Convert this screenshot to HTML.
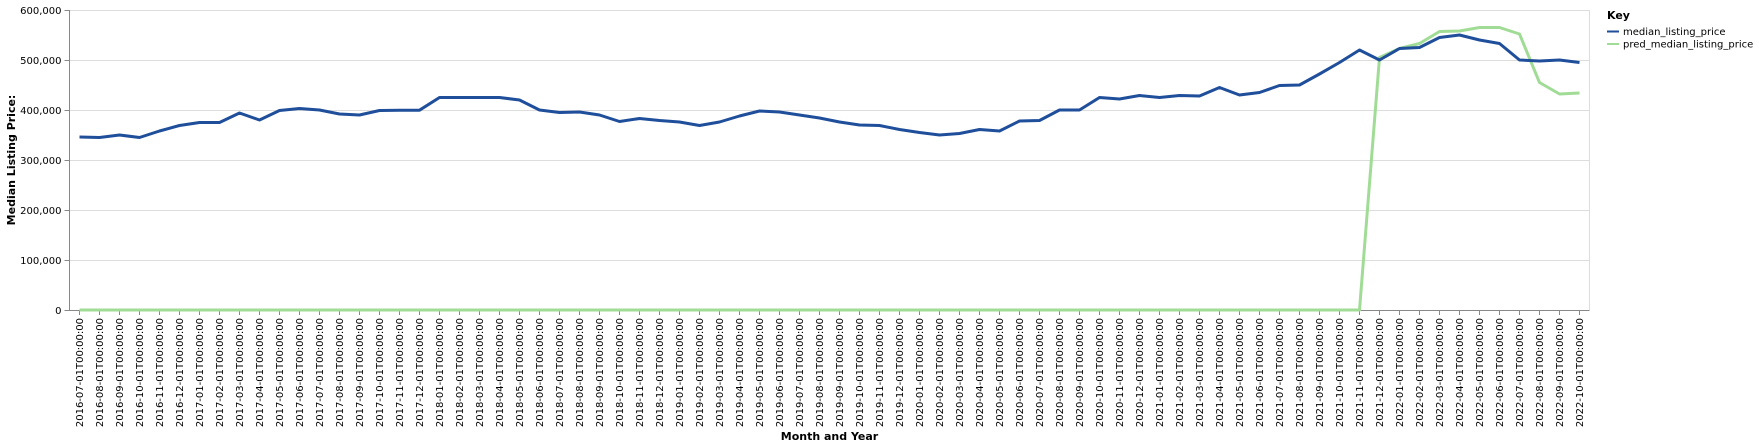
<!DOCTYPE html>
<html><head><meta charset="utf-8"><style>
body{margin:0;background:#fff}
svg{display:block;font-family:"DejaVu Sans","Liberation Sans",sans-serif}
</style></head><body>
<svg id="chart" width="1759" height="447" xmlns="http://www.w3.org/2000/svg">
<g id="grid"></g>
<g id="xaxis"></g>
<g id="yaxis"></g>
<g id="lines"></g>
<text x="829.5" y="440" text-anchor="middle" font-size="11" font-weight="bold">Month and Year</text>
<text transform="translate(15,160) rotate(-90)" text-anchor="middle" font-size="11" font-weight="bold">Median Listing Price:</text>
<g>
<text x="1607" y="19" font-size="11" font-weight="bold">Key</text>
<g><line x1="1607" y1="31.5" x2="1619" y2="31.5" stroke="#1f4e9a" stroke-width="2"/><text x="1623" y="35" font-size="10">median_listing_price</text></g>
<g><line x1="1607" y1="44" x2="1619" y2="44" stroke="#a1dc96" stroke-width="2"/><text x="1623" y="47.5" font-size="10">pred_median_listing_price</text></g>
</g>
</svg>
<script>
const yTicks=[0,100000,200000,300000,400000,500000,600000];
const medianValues=[346000,345000,350000,345000,358000,369000,375000,375000,394000,380000,399000,403000,400000,392000,390000,399000,399500,399500,425000,425000,425000,425000,420000,400000,395000,396000,390000,377000,383000,379000,376000,369000,376000,388000,398000,396000,390000,384000,376000,370000,369000,361000,355000,350000,353000,361000,358000,378000,379000,400000,400000,425000,422000,429000,425000,429000,428000,445000,430000,435000,449000,450000,472000,495000,520000,500000,523000,525000,545000,550000,540000,533000,500000,498000,500000,495000];
const predValues=[0,0,0,0,0,0,0,0,0,0,0,0,0,0,0,0,0,0,0,0,0,0,0,0,0,0,0,0,0,0,0,0,0,0,0,0,0,0,0,0,0,0,0,0,0,0,0,0,0,0,0,0,0,0,0,0,0,0,0,0,0,0,0,0,0,505000,523000,533000,557000,558000,565000,565000,552000,455000,432000,434000];
const categories=[];
for(let y=2016,m=7;categories.length<medianValues.length;){categories.push(y+'-'+String(m).padStart(2,'0')+'-01T00:00:00');m++;if(m>12){m=1;y++;}}
const NS='http://www.w3.org/2000/svg';
const L=69.5,R=1589.5,T=10,B=310;
const step=(R-L)/categories.length;
const xs=i=>L+(i+0.5)*step;
const ys=v=>B-v/600000*(B-T);
function mk(tag,attrs,parent){const e=document.createElementNS(NS,tag);for(const k in attrs)e.setAttribute(k,attrs[k]);parent.appendChild(e);return e;}
const grid=document.getElementById('grid'),xa=document.getElementById('xaxis'),ya=document.getElementById('yaxis'),lines=document.getElementById('lines');
yTicks.forEach(v=>{
 const y=Math.round(ys(v))+0.5;
 const g=mk('line',{x1:L,x2:R,y1:y,y2:y,stroke:'#ddd'},grid);
 
 
 mk('line',{x1:L-5,x2:L,y1:y,y2:y,stroke:'#888'},ya);
 const t=mk('text',{x:L-8,y:y+3.5,'text-anchor':'end','font-size':10},ya);
 t.textContent=v.toLocaleString('en-US');
 
 
});
mk('line',{x1:L,x2:L,y1:T,y2:B,stroke:'#888'},ya);
mk('line',{x1:R,x2:R,y1:T,y2:B,stroke:'#ddd'},grid);
mk('line',{x1:L,x2:R,y1:T+0.5,y2:T+0.5,stroke:'#ddd'},grid);
mk('line',{x1:L,x2:R,y1:B+0.5,y2:B+0.5,stroke:'#888'},xa);
categories.forEach((c,i)=>{
 const x=xs(i);
 mk('line',{x1:x,x2:x,y1:B,y2:B+5,stroke:'#888'},xa);
 const t=mk('text',{transform:`translate(${x+3.5},${B+8}) rotate(-90)`,'text-anchor':'end','font-size':10},xa);
 t.textContent=c;
 
 
});
function path(vals,color,name){
 const d=vals.map((v,i)=>(i?'L':'M')+xs(i).toFixed(1)+','+ys(v).toFixed(1)).join('');
 const p=mk('path',{d:d,fill:'none',stroke:color,'stroke-width':3,'stroke-linejoin':'round'},lines);
 
 
}
path(predValues,'#a1dc96','pred-median-line');
path(medianValues,'#1f4e9a','median-line');
</script>
</body></html>
